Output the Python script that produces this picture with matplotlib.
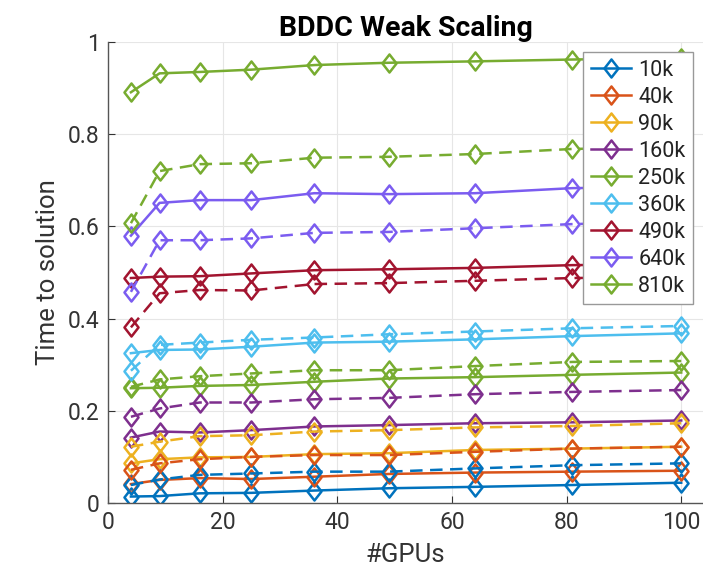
import matplotlib
matplotlib.use("Agg")
import matplotlib.pyplot as plt
from matplotlib.path import Path

gpus = [4, 9, 16, 25, 36, 49, 64, 81, 100]
labels = ["10k", "40k", "90k", "160k", "250k", "360k", "490k", "640k", "810k"]
colors = ["#0072BD", "#D95319", "#EDB120", "#7E2F8E", "#77AC30",
          "#4DBEEE", "#A2142F", "#7B5CF0", "#77AC30"]

solid_10k = [0.014, 0.015, 0.021, 0.022, 0.027, 0.032, 0.035, 0.039, 0.044]
solid_40k = [0.041, 0.050, 0.054, 0.052, 0.057, 0.063, 0.066, 0.068, 0.070]
solid_90k = [0.086, 0.095, 0.099, 0.100, 0.106, 0.108, 0.115, 0.118, 0.122]
solid_160k = [0.142, 0.155, 0.153, 0.158, 0.166, 0.169, 0.173, 0.175, 0.179]
solid_250k = [0.249, 0.250, 0.254, 0.256, 0.263, 0.270, 0.273, 0.278, 0.283]
solid_360k = [0.325, 0.332, 0.333, 0.339, 0.348, 0.350, 0.355, 0.362, 0.368]
solid_490k = [0.488, 0.491, 0.492, 0.498, 0.505, 0.507, 0.510, 0.516, 0.518]
solid_640k = [0.580, 0.651, 0.657, 0.657, 0.672, 0.670, 0.672, 0.683, 0.686]
solid_810k = [0.891, 0.932, 0.935, 0.940, 0.950, 0.955, 0.958, 0.962, 0.965]

dashed_10k = [0.039, 0.051, 0.061, 0.064, 0.068, 0.068, 0.075, 0.082, 0.086]
dashed_40k = [0.072, 0.086, 0.095, 0.100, 0.104, 0.104, 0.111, 0.118, 0.122]
dashed_90k = [0.122, 0.133, 0.145, 0.147, 0.155, 0.158, 0.164, 0.167, 0.173]
dashed_160k = [0.187, 0.205, 0.218, 0.218, 0.225, 0.228, 0.236, 0.241, 0.245]
dashed_250k = [0.252, 0.268, 0.275, 0.281, 0.288, 0.288, 0.297, 0.306, 0.308]
dashed_360k = [0.287, 0.343, 0.348, 0.354, 0.359, 0.366, 0.372, 0.379, 0.384]
dashed_490k = [0.381, 0.455, 0.462, 0.461, 0.475, 0.477, 0.482, 0.488, 0.490]
dashed_640k = [0.458, 0.570, 0.570, 0.574, 0.586, 0.588, 0.596, 0.605, 0.610]
dashed_810k = [0.607, 0.720, 0.735, 0.737, 0.749, 0.751, 0.757, 0.768, 0.772]

solid = [solid_10k, solid_40k, solid_90k, solid_160k, solid_250k,
         solid_360k, solid_490k, solid_640k, solid_810k]
dashed = [dashed_10k, dashed_40k, dashed_90k, dashed_160k, dashed_250k,
          dashed_360k, dashed_490k, dashed_640k, dashed_810k]

plt.rcParams['font.family'] = ['Roboto', 'DejaVu Sans']

fig = plt.figure(figsize=(7.03, 5.72), dpi=100)
ax = fig.add_axes([108/703, 69/572, 1 - 108/703, 461/572])

diamond = Path([(0, 1), (0.78, 0), (0, -1), (-0.78, 0), (0, 1)],
               [Path.MOVETO, Path.LINETO, Path.LINETO, Path.LINETO, Path.CLOSEPOLY])
mk = dict(marker=diamond, markersize=13, markerfacecolor='none', markeredgewidth=1.8)
handles = []
for lab, c, s in zip(labels, colors, solid):
    h, = ax.plot(gpus, s, color=c, lw=1.8, label=lab, **mk)
    handles.append(h)
for c, d in zip(colors, dashed):
    ax.plot(gpus, d, color=c, lw=1.8, linestyle=(0, (5, 3)), **mk)

ax.set_xlim(0, 103.8)
ax.set_ylim(0, 1)
ax.set_xticks([0, 20, 40, 60, 80, 100])
ax.set_yticks([0, 0.2, 0.4, 0.6, 0.8, 1])
ax.set_yticklabels(["0", "0.2", "0.4", "0.6", "0.8", "1"])
ax.grid(True, color='#e6e6e6', lw=0.8)
ax.set_axisbelow(True)
for sp in ['top', 'right']:
    ax.spines[sp].set_visible(False)
for sp in ['left', 'bottom']:
    ax.spines[sp].set_color('#555555')
    ax.spines[sp].set_linewidth(1.0)
ax.tick_params(axis='both', labelsize=16.5, colors='#333333', direction='in',
               length=5, width=0.8, pad=6)
ax.set_xlabel("#GPUs", fontsize=18.5, color='#333333', labelpad=6)
ax.set_ylabel("Time to solution", fontsize=18.5, color='#333333', labelpad=6)
ax.set_title("BDDC Weak Scaling", fontsize=20.5, fontweight='bold', pad=3)

leg = ax.legend(handles=handles, loc='upper right',
                bbox_to_anchor=(693/703, 1 - 52/572), bbox_transform=fig.transFigure,
                fontsize=15.5, frameon=True, fancybox=False, edgecolor='#999999',
                framealpha=1.0, handlelength=1.85, handletextpad=0.35,
                labelspacing=0.28, borderpad=0.35, borderaxespad=0)
leg.get_frame().set_linewidth(1.0)
for t in leg.get_texts():
    t.set_color('#222222')

fig.savefig("out.png", dpi=100)
